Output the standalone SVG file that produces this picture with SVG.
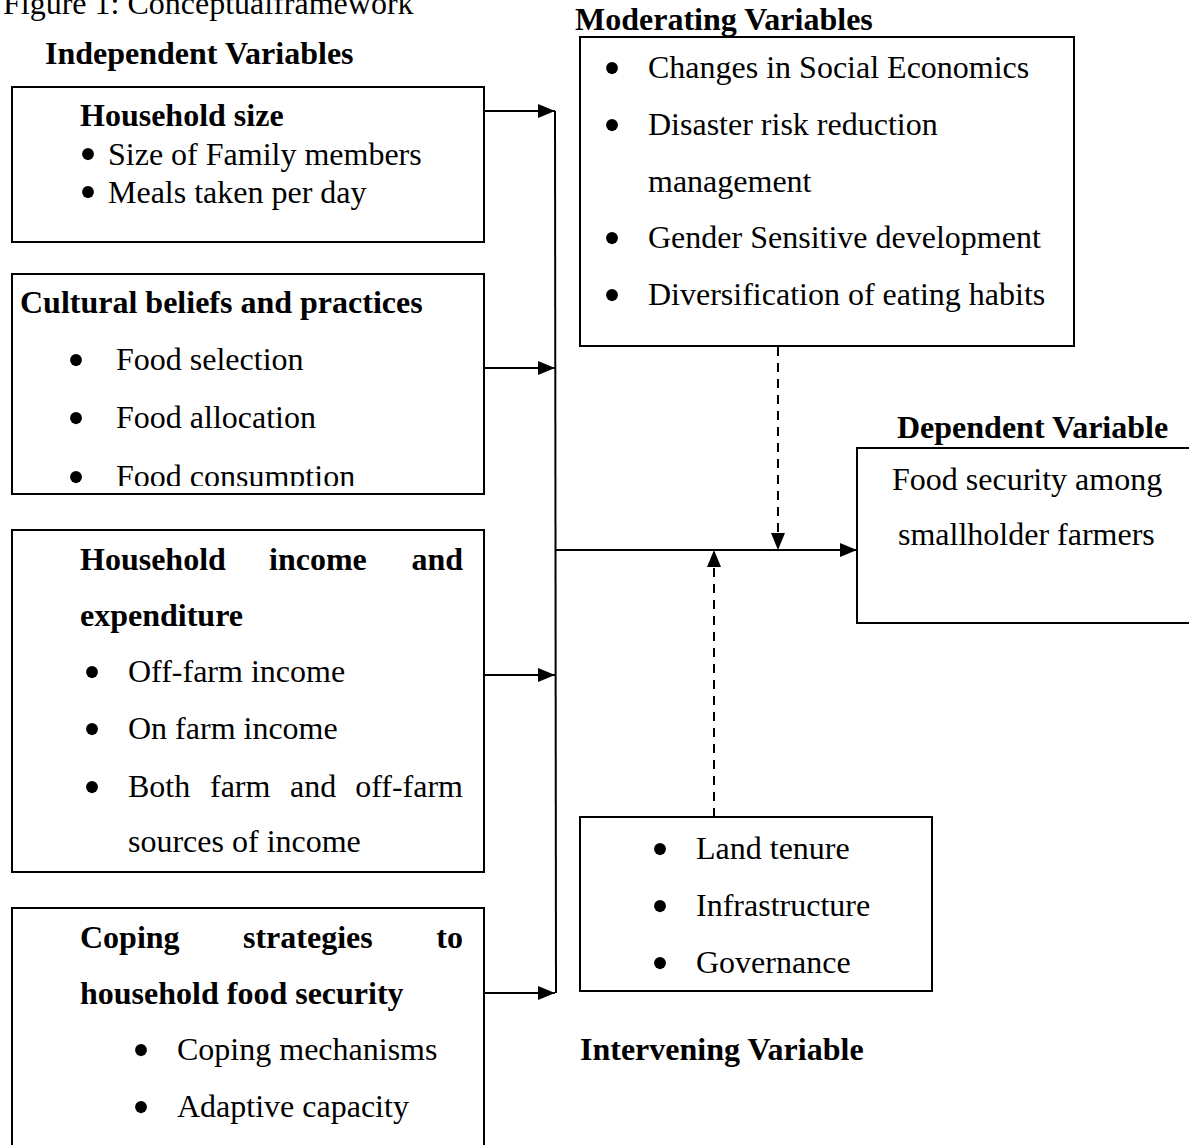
<svg xmlns="http://www.w3.org/2000/svg" width="1189" height="1145" viewBox="0 0 1189 1145">
<style>
text{font-family:"Liberation Serif","Times New Roman",serif;font-size:32px;fill:#000}
.b{font-weight:bold}
.bu{font-size:50px;text-anchor:middle}
.box{fill:#fff;stroke:#000;stroke-width:2}
.ln{stroke:#000;stroke-width:2;fill:none}
.dash{stroke:#000;stroke-width:2;fill:none;stroke-dasharray:9,7}
</style>
<defs>
<marker id="ah" markerUnits="userSpaceOnUse" markerWidth="17" markerHeight="14" refX="17" refY="7" orient="auto">
<path d="M0,0 L17,7 L0,14 z" fill="#000"/>
</marker>
<clipPath id="clipC"><rect x="0" y="270" width="490" height="216"/></clipPath>
</defs>
<rect width="1189" height="1145" fill="#fff"/>
<text id="title" x="3" y="14">Figure 1: Conceptualframework</text>
<text class="b" x="45" y="64">Independent Variables</text>
<text class="b" x="575" y="30">Moderating Variables</text>
<text class="b" x="897" y="438">Dependent Variable</text>
<text class="b" x="580" y="1060">Intervening Variable</text>

<g id="connectors">
<line class="ln" x1="555" y1="111" x2="556" y2="993"/>
<line class="ln" x1="484" y1="111" x2="555" y2="111" marker-end="url(#ah)"/>
<line class="ln" x1="484" y1="368" x2="555" y2="368" marker-end="url(#ah)"/>
<line class="ln" x1="484" y1="675" x2="555" y2="675" marker-end="url(#ah)"/>
<line class="ln" x1="484" y1="993" x2="555" y2="993" marker-end="url(#ah)"/>
<line class="ln" x1="555" y1="550" x2="857" y2="550" marker-end="url(#ah)"/>
<line class="dash" x1="778" y1="347" x2="778" y2="550" marker-end="url(#ah)"/>
<line class="dash" x1="714" y1="817" x2="714" y2="550" marker-end="url(#ah)"/>
</g>

<g id="household-size">
<rect class="box" x="12" y="87" width="472" height="155"/>
<text class="b" x="80" y="126">Household size</text>
<text class="bu" x="88" y="171">•</text><text x="108" y="165">Size of Family members</text>
<text class="bu" x="88" y="209">•</text><text x="108" y="203">Meals taken per day</text>
</g>

<g id="cultural">
<rect class="box" x="12" y="274" width="472" height="220"/>
<text class="b" x="20" y="313">Cultural beliefs and practices</text>
<text class="bu" x="76" y="377">•</text><text x="116" y="370">Food selection</text>
<text class="bu" x="76" y="435">•</text><text x="116" y="428">Food allocation</text>
<g clip-path="url(#clipC)"><text class="bu" x="76" y="494">•</text><text x="116" y="487">Food consumption</text></g>
</g>

<g id="income">
<rect class="box" x="12" y="530" width="472" height="342"/>
<text class="b" x="80" y="570">Household</text>
<text class="b" x="269" y="570">income</text>
<text class="b" x="463" y="570" text-anchor="end">and</text>
<text class="b" x="80" y="626">expenditure</text>
<text class="bu" x="92" y="689">•</text><text x="128" y="682">Off-farm income</text>
<text class="bu" x="92" y="746">•</text><text x="128" y="739">On farm income</text>
<text class="bu" x="92" y="804">•</text>
<text x="128" y="797">Both</text><text x="210" y="797">farm</text><text x="290" y="797">and</text><text x="463" y="797" text-anchor="end">off-farm</text>
<text x="128" y="852">sources of income</text>
</g>

<g id="coping">
<rect class="box" x="12" y="908" width="472" height="260"/>
<text class="b" x="80" y="948">Coping</text>
<text class="b" x="243" y="948">strategies</text>
<text class="b" x="463" y="948" text-anchor="end">to</text>
<text class="b" x="80" y="1004">household food security</text>
<text class="bu" x="141" y="1067">•</text><text x="177" y="1060">Coping mechanisms</text>
<text class="bu" x="141" y="1124">•</text><text x="177" y="1117">Adaptive capacity</text>
</g>

<g id="moderating">
<rect class="box" x="580" y="37" width="494" height="309"/>
<text class="bu" x="612" y="85">•</text><text x="648" y="78">Changes in Social Economics</text>
<text class="bu" x="612" y="142">•</text><text x="648" y="135">Disaster risk reduction</text>
<text x="648" y="192">management</text>
<text class="bu" x="612" y="255">•</text><text x="648" y="248">Gender Sensitive development</text>
<text class="bu" x="612" y="312">•</text><text x="648" y="305">Diversification of eating habits</text>
</g>

<g id="dependent">
<rect class="box" x="857" y="448" width="350" height="175"/>
<text x="892" y="490">Food security among</text>
<text x="898" y="545">smallholder farmers</text>
</g>

<g id="intervening">
<rect class="box" x="580" y="817" width="352" height="174"/>
<text class="bu" x="660" y="866">•</text><text x="696" y="859">Land tenure</text>
<text class="bu" x="660" y="923">•</text><text x="696" y="916">Infrastructure</text>
<text class="bu" x="660" y="980">•</text><text x="696" y="973">Governance</text>
</g>
</svg>
